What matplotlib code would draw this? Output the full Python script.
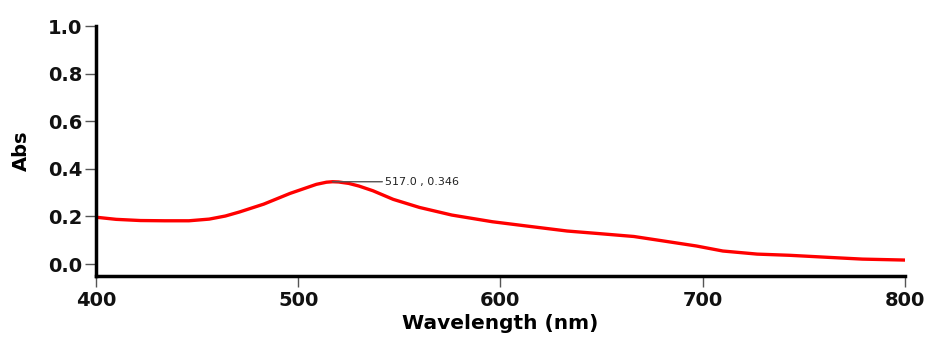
import matplotlib.pyplot as plt
import numpy as np

# absorbance spectrum
wavelength = [400, 410, 422, 434, 446, 456, 464, 471, 483, 496, 509, 514, 517, 520,
              525, 530, 537, 547, 560, 576, 596, 613, 633, 649, 666, 680, 697, 710,
              727, 743, 763, 779, 800]
absorbance = [0.197, 0.188, 0.183, 0.182, 0.182, 0.189, 0.202, 0.219, 0.252, 0.297,
              0.335, 0.344, 0.346, 0.345, 0.339, 0.328, 0.308, 0.272, 0.238, 0.206,
              0.178, 0.160, 0.139, 0.128, 0.116, 0.098, 0.076, 0.055, 0.042, 0.037,
              0.028, 0.021, 0.017]
peak_x, peak_y = 517.0, 0.346

plt.rcParams['font.family'] = ['DejaVu Sans']

fig = plt.figure(figsize=(9.28, 3.38), dpi=100)
ax = fig.add_axes([0.1034, 0.1834, 0.8716, 0.7396])

ax.plot(wavelength, absorbance, color='#ff0000', linewidth=2.4)

# peak marker label
ax.annotate(f'{peak_x:.1f} , {peak_y:.3f}', xy=(peak_x, peak_y), xytext=(543, peak_y),
            fontsize=8, color='#222222', va='center', ha='left',
            arrowprops=dict(arrowstyle='-', color='#555555', lw=1, shrinkA=0, shrinkB=0))

ax.set_xlim(400, 800)
ax.set_ylim(-0.05, 1.0)
ax.set_xticks([400, 500, 600, 700, 800])
ax.set_yticks([0.0, 0.2, 0.4, 0.6, 0.8, 1.0])
ax.set_yticklabels(['0.0', '0.2', '0.4', '0.6', '0.8', '1.0'])

for s in ['top', 'right']:
    ax.spines[s].set_visible(False)
for s in ['left', 'bottom']:
    ax.spines[s].set_linewidth(2.5)
    ax.spines[s].set_color('black')

ax.tick_params(axis='both', length=8, width=1, color='#555555', labelsize=14)
ax.tick_params(axis='x', pad=3)
ax.tick_params(axis='y', pad=2)
for lbl in ax.get_xticklabels() + ax.get_yticklabels():
    lbl.set_fontweight('bold')
    lbl.set_color('#111111')

ax.set_xlabel('Wavelength (nm)', fontsize=14.5, fontweight='bold', labelpad=3)
ax.set_ylabel('Abs', fontsize=14, fontweight='bold', labelpad=12)

fig.savefig('out.png', dpi=100)
